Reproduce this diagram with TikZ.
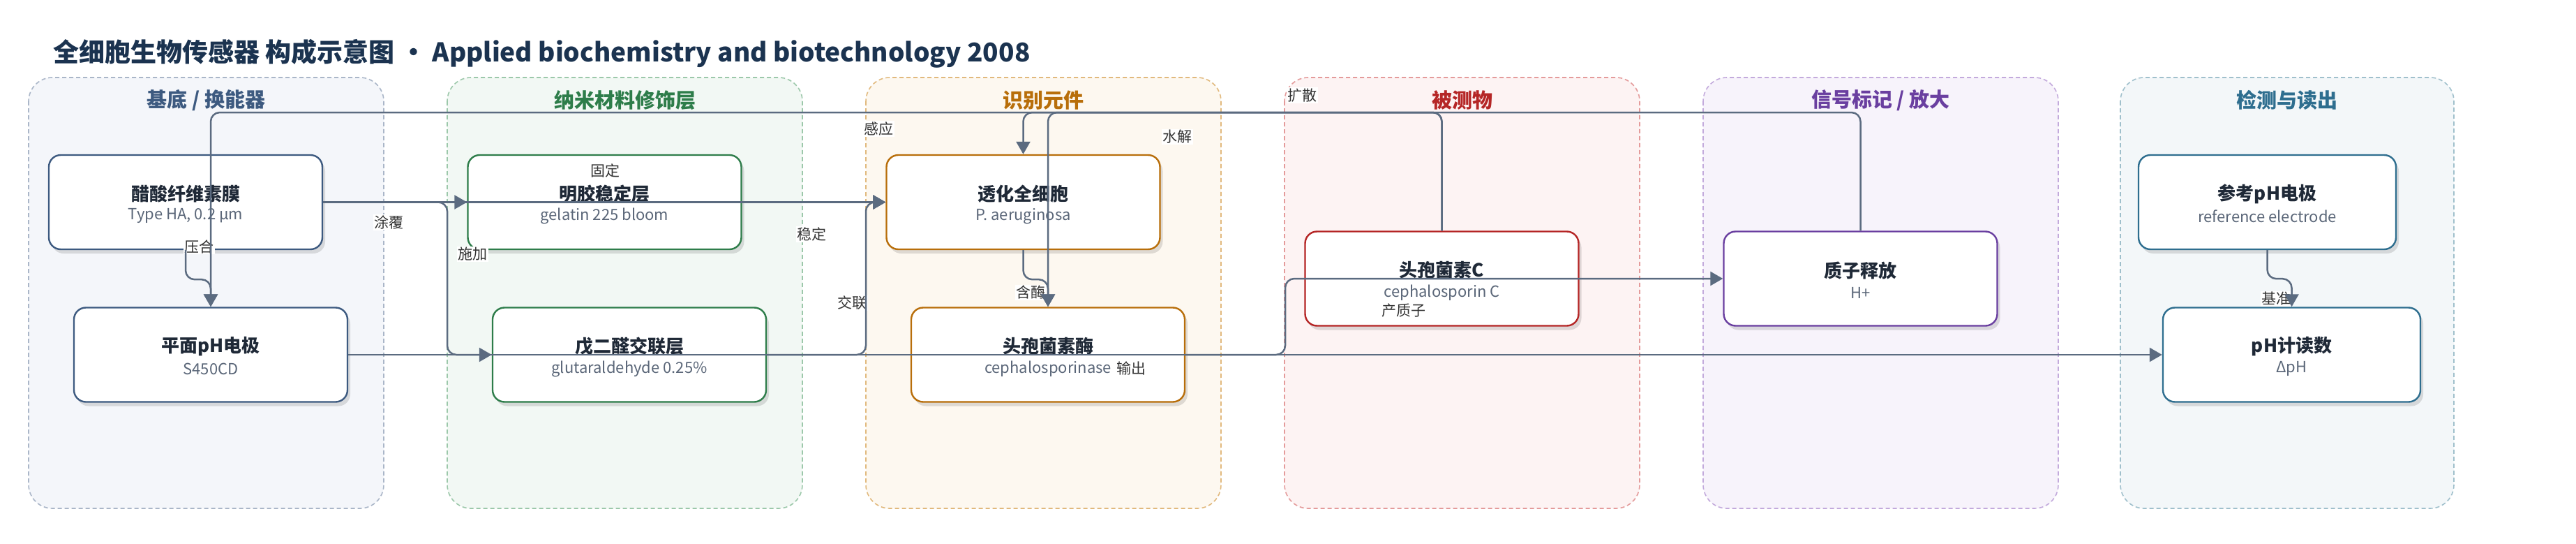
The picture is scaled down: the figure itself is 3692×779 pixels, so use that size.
\documentclass[tikz,border=0pt]{standalone}
\usepackage{fontspec}
\setmainfont{Noto Sans CJK SC}
\usetikzlibrary{arrows.meta,shadows,calc}
\definecolor{edgec}{RGB}{91,107,128}
\definecolor{maintc}{RGB}{31,41,55}
\definecolor{subtc}{RGB}{90,102,120}
\definecolor{titlec}{RGB}{27,51,80}
\definecolor{lblc}{RGB}{51,51,51}
% group colours
\definecolor{gAd}{RGB}{61,90,128}\definecolor{gAf}{RGB}{244,246,250}\definecolor{gAb}{RGB}{170,182,200}
\definecolor{gBd}{RGB}{46,125,74}\definecolor{gBf}{RGB}{242,248,244}\definecolor{gBb}{RGB}{156,200,170}
\definecolor{gCd}{RGB}{184,110,10}\definecolor{gCf}{RGB}{253,248,240}\definecolor{gCb}{RGB}{225,185,125}
\definecolor{gDd}{RGB}{181,38,38}\definecolor{gDf}{RGB}{253,243,243}\definecolor{gDb}{RGB}{228,155,155}
\definecolor{gEd}{RGB}{106,63,160}\definecolor{gEf}{RGB}{247,243,251}\definecolor{gEb}{RGB}{195,170,220}
\definecolor{gFd}{RGB}{46,110,143}\definecolor{gFf}{RGB}{243,247,249}\definecolor{gFb}{RGB}{160,192,204}
\tikzset{
  grp/.style 2 args={draw=#2, fill=#1, dash pattern=on 6pt off 4pt, line width=1.6pt, rounded corners=34pt},
  grptitle/.style={font=\fontsize{29}{33}\selectfont\bfseries, text=#1, inner sep=0pt},
  card/.style={draw=#1, line width=2.4pt, rounded corners=17pt, fill=white, minimum height=135pt, inner sep=0pt,
    drop shadow={shadow xshift=4pt, shadow yshift=-6pt, opacity=0.12, fill=black}},
  maintxt/.style={font=\fontsize{26}{29}\selectfont\bfseries, text=maintc, inner sep=0pt},
  subtxt/.style={font=\fontsize{22}{25}\selectfont, text=subtc, inner sep=0pt},
  elabel/.style={font=\fontsize{21}{24}\selectfont, text=lblc, fill=white, inner sep=1.5pt},
  edge/.style={draw=edgec, line width=2.5pt, rounded corners=13pt, -{Triangle[length=18pt,width=20pt]}},
}
\newcommand{\card}[7]{%
  \node[card=#5, minimum width=#4] (#1) at (#2,#3) {};
  \node[maintxt] (#1-t) at ($(#1.center)+(0,-12)$) {#6};
  \node[subtxt] (#1-s) at ($(#1.center)+(0,20)$) {#7};
}
\begin{document}
\begin{tikzpicture}[x=1pt,y=-1pt]
\useasboundingbox (0,0) rectangle (3692,779);
\fill[white] (0,0) rectangle (3692,779);
% title
\node[anchor=west, font=\fontsize{37}{41}\selectfont\bfseries, text=titlec, inner sep=0pt] (title) at (76,77)
  {全细胞生物传感器 构成示意图 • Applied biochemistry and biotechnology 2008};
% groups
\draw[grp={gAf}{gAb}] (41,111) rectangle (550,728);
\draw[grp={gBf}{gBb}] (641,111) rectangle (1150,728);
\draw[grp={gCf}{gCb}] (1241,111) rectangle (1750,728);
\draw[grp={gDf}{gDb}] (1841,111) rectangle (2350,728);
\draw[grp={gEf}{gEb}] (2441,111) rectangle (2950,728);
\draw[grp={gFf}{gFb}] (3039,111) rectangle (3517,728);
\node[grptitle=gAd] (gA) at (295.5,143.5) {基底 / 换能器};
\node[grptitle=gBd] (gB) at (895.5,143.5) {纳米材料修饰层};
\node[grptitle=gCd] (gC) at (1495.5,143.5) {识别元件};
\node[grptitle=gDd] (gD) at (2095.5,143.5) {被测物};
\node[grptitle=gEd] (gE) at (2695.5,143.5) {信号标记 / 放大};
\node[grptitle=gFd] (gF) at (3278,143.5) {检测与读出};
% nodes
\card{m}{266}{289.5}{392pt}{gAd}{醋酸纤维素膜}{Type HA, 0.2 µm}
\card{e}{302}{508}{392pt}{gAd}{平面pH电极}{S450CD}
\card{g}{866.5}{289.5}{392pt}{gBd}{明胶稳定层}{gelatin 225 bloom}
\card{ga}{902}{508}{392pt}{gBd}{戊二醛交联层}{glutaraldehyde 0.25\%}
\card{t}{1466.5}{289.5}{392pt}{gCd}{透化全细胞}{P. aeruginosa}
\card{z}{1502}{508}{392pt}{gCd}{头孢菌素酶}{cephalosporinase}
\card{c}{2066.5}{399}{392pt}{gDd}{头孢菌素C}{cephalosporin C}
\card{q}{2666.5}{399}{392pt}{gEd}{质子释放}{H+}
\card{r}{3249.5}{289.5}{369pt}{gFd}{参考pH电极}{reference electrode}
\card{p}{3284.5}{508}{369pt}{gFd}{pH计读数}{ΔpH}
% helper coordinates
\coordinate (top) at (0,161);
\coordinate (b1) at (641,0);
\coordinate (b2) at (1241,0);
\coordinate (b3) at (1842,0);
% edge labels
\node[elabel] (l1) at (285,353) {压合};
\node[elabel] (l2) at (557,318.7) {涂覆};
\node[elabel] (l3) at (677.6,364) {施加};
\node[elabel] (l4) at (867,244) {固定};
\node[elabel] (l5) at (1163,335.7) {稳定};
\node[elabel] (l6) at (1221,434) {交联};
\node[elabel] (l7) at (1477,418.7) {含酶};
\node[elabel] (l8) at (1866,136.5) {扩散};
\node[elabel] (l9) at (1687,196) {水解};
\node[elabel] (l10) at (1259.5,184.6) {感应};
\node[elabel] (l11) at (2011.6,445) {产质子};
\node[elabel] (l12) at (1621,527) {输出};
\node[elabel] (l13) at (3262,428) {基准};
% edges
\draw[edge] (m.south) -- ++(0,42) -| (e.north);
\draw[edge] (m.east) -- (g.west);
\draw[edge] (m.east) -| (b1 |- ga.west) -- (ga.west);
\draw[edge] (m.east) -- (t.west);
\draw[edge] (g.east) -- (t.west);
\draw[edge] (ga.east) -| (b2 |- t.west) -- (t.west);
\draw[edge] (t.south) -- ++(0,42) -| (z.north);
\draw[edge] (c.north) -- (c.north |- top) -| (t.north);
\draw[edge] (c.north) -- (c.north |- top) -| (z.north);
\draw[edge] (q.north) -- (q.north |- top) -| (e.north);
\draw[edge] (z.east) -| (b3 |- q.west) -- (q.west);
\draw[edge] (e.east) -- (p.west);
\draw[edge] (r.south) -- ++(0,41) -| (p.north);
\end{tikzpicture}
\end{document}
